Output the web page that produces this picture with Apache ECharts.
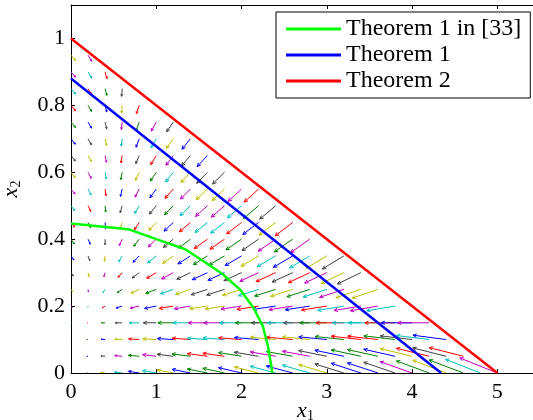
<!DOCTYPE html>
<html>
<head>
<meta charset="utf-8">
<script src="https://cdn.jsdelivr.net/npm/echarts@6/dist/echarts.min.js"></script>
<style>
  html, body { margin: 0; padding: 0; background: #fff; }
  #chart { width: 533px; height: 420px; }
</style>
</head>
<body>
<div id="chart"></div>
<script>
// quiver grid (tails of the arrows)
const arrowX = [0, 0.2, 0.4, 0.6, 0.8, 1, 1.2, 1.4, 1.6, 1.8, 2, 2.2, 2.4, 2.6, 2.8, 3, 3.2, 3.4, 3.6, 3.8, 4, 4.2, 4.4, 4.6, 4.8, 5];
const arrowY = [0, 0.05, 0.1, 0.15, 0.2, 0.25, 0.3, 0.35, 0.4, 0.45, 0.5, 0.55, 0.6, 0.65, 0.7, 0.75, 0.8, 0.85, 0.9, 0.95];

// arrow components, one row per arrowY value
const arrowU = [
  [0, -0.017, -0.049, -0.087, -0.126, -0.16, -0.19, -0.215, -0.236, -0.254, -0.27, -0.284, -0.297, -0.309, -0.32, -0.33, -0.34, -0.349, -0.358, -0.367, -0.375, -0.384, -0.392, -0.4, -0.408, -0.44],
  [0, -0.017, -0.049, -0.087, -0.126, -0.16, -0.19, -0.215, -0.236, -0.254, -0.27, -0.284, -0.297, -0.309, -0.32, -0.33, -0.34, -0.349, -0.358, -0.367, -0.375, -0.384, -0.392, -0.4],
  [0.002, -0.015, -0.047, -0.085, -0.124, -0.158, -0.188, -0.213, -0.234, -0.252, -0.268, -0.282, -0.295, -0.307, -0.318, -0.328, -0.338, -0.347, -0.356, -0.365, -0.373, -0.382, -0.39],
  [0.006, -0.010, -0.042, -0.080, -0.117, -0.151, -0.180, -0.204, -0.225, -0.243, -0.259, -0.273, -0.285, -0.297, -0.307, -0.317, -0.327, -0.336, -0.345, -0.354, -0.362, -0.370],
  [0.013, -0.003, -0.033, -0.069, -0.105, -0.138, -0.165, -0.189, -0.209, -0.226, -0.241, -0.254, -0.267, -0.278, -0.288, -0.298, -0.307, -0.316, -0.324, -0.332],
  [0.020, 0.005, -0.024, -0.059, -0.093, -0.124, -0.151, -0.173, -0.192, -0.209, -0.223, -0.236, -0.247, -0.258, -0.268, -0.277, -0.286, -0.294, -0.302],
  [0.028, 0.013, -0.015, -0.048, -0.082, -0.112, -0.137, -0.159, -0.178, -0.194, -0.207, -0.220, -0.231, -0.241, -0.251, -0.260, -0.268, -0.276],
  [0.034, 0.020, -0.007, -0.039, -0.072, -0.101, -0.125, -0.146, -0.164, -0.180, -0.193, -0.205, -0.216, -0.226, -0.235, -0.243, -0.252],
  [0.039, 0.025, -0.001, -0.033, -0.064, -0.093, -0.117, -0.137, -0.155, -0.170, -0.183, -0.194, -0.205, -0.215, -0.224],
  [0.042, 0.029, 0.004, -0.027, -0.058, -0.086, -0.109, -0.129, -0.146, -0.161, -0.174, -0.185, -0.195, -0.205],
  [0.045, 0.032, 0.007, -0.023, -0.053, -0.080, -0.103, -0.122, -0.139, -0.153, -0.165, -0.177, -0.186],
  [0.047, 0.035, 0.010, -0.019, -0.048, -0.074, -0.097, -0.116, -0.132, -0.146, -0.158, -0.169],
  [0.049, 0.037, 0.013, -0.016, -0.044, -0.070, -0.091, -0.110, -0.126, -0.139],
  [0.050, 0.038, 0.015, -0.013, -0.040, -0.065, -0.086, -0.104, -0.120],
  [0.051, 0.039, 0.017, -0.010, -0.037, -0.061, -0.082, -0.099],
  [0.052, 0.040, 0.018, -0.009, -0.035, -0.059, -0.079],
  [0.052, 0.041, 0.019, -0.007, -0.033],
  [0.053, 0.042, 0.020, -0.006],
  [0.053, 0.042, 0.021],
  [0.053, 0.043]
];
const arrowV = [
  [0, 0, 0.002, 0.003, 0.005, 0.007, 0.009, 0.011, 0.012, 0.014, 0.016, 0.018, 0.020, 0.021, 0.023, 0.025, 0.027, 0.029, 0.030, 0.032, 0.034, 0.036, 0.038, 0.039, 0.041, 0.045],
  [0, 0, 0.001, 0.002, 0.003, 0.005, 0.006, 0.007, 0.008, 0.009, 0.011, 0.012, 0.013, 0.014, 0.015, 0.017, 0.018, 0.019, 0.020, 0.021, 0.023, 0.024, 0.025, 0.026],
  [0, 0, 0.001, 0.001, 0.002, 0.002, 0.003, 0.004, 0.004, 0.005, 0.005, 0.006, 0.007, 0.007, 0.008, 0.008, 0.009, 0.010, 0.010, 0.011, 0.011, 0.012, 0.013],
  [0, 0, 0, 0, 0, 0, 0, 0, 0, 0, 0, 0, 0, 0, 0, 0, 0, 0, 0, 0, 0, 0],
  [-0.004, -0.004, -0.005, -0.006, -0.006, -0.007, -0.007, -0.008, -0.008, -0.009, -0.009, -0.010, -0.010, -0.011, -0.011, -0.012, -0.013, -0.013, -0.014, -0.014],
  [-0.007, -0.008, -0.009, -0.010, -0.011, -0.012, -0.013, -0.015, -0.016, -0.017, -0.018, -0.019, -0.020, -0.021, -0.022, -0.023, -0.024, -0.025, -0.026],
  [-0.010, -0.012, -0.013, -0.014, -0.016, -0.017, -0.019, -0.020, -0.021, -0.023, -0.024, -0.026, -0.027, -0.028, -0.030, -0.031, -0.033, -0.034],
  [-0.012, -0.014, -0.016, -0.017, -0.019, -0.021, -0.022, -0.024, -0.026, -0.027, -0.029, -0.031, -0.032, -0.034, -0.036, -0.037, -0.039],
  [-0.014, -0.015, -0.017, -0.019, -0.021, -0.023, -0.025, -0.027, -0.028, -0.030, -0.032, -0.034, -0.036, -0.038, -0.040],
  [-0.014, -0.016, -0.018, -0.020, -0.022, -0.024, -0.026, -0.028, -0.030, -0.032, -0.034, -0.036, -0.038, -0.040],
  [-0.015, -0.017, -0.019, -0.021, -0.023, -0.025, -0.027, -0.030, -0.032, -0.034, -0.036, -0.038, -0.040],
  [-0.015, -0.018, -0.020, -0.022, -0.024, -0.026, -0.028, -0.030, -0.032, -0.035, -0.037, -0.039],
  [-0.016, -0.018, -0.020, -0.022, -0.024, -0.026, -0.029, -0.031, -0.033, -0.035],
  [-0.016, -0.018, -0.020, -0.022, -0.024, -0.027, -0.029, -0.031, -0.033],
  [-0.016, -0.018, -0.020, -0.022, -0.025, -0.027, -0.029, -0.031],
  [-0.016, -0.018, -0.020, -0.022, -0.025, -0.027, -0.029],
  [-0.016, -0.018, -0.020, -0.023, -0.025],
  [-0.016, -0.018, -0.020, -0.023],
  [-0.016, -0.018, -0.020],
  [-0.016, -0.018]
];

// boundary curves
const greenX = [0, 0.67, 1.0, 1.34, 1.55, 1.78, 1.98, 2.14, 2.25, 2.31, 2.35, 2.36];
const greenY = [0.447, 0.43, 0.40, 0.37, 0.335, 0.295, 0.25, 0.195, 0.14, 0.08, 0.02, 0];
const blueX = [0, 4.34];
const blueY = [0.88, 0];
const redX = [0, 5];
const redY = [1, 0];

const seriesNames = ["Theorem 1 in [33]", "Theorem 1", "Theorem 2"];
const xTicks = [0, 1, 2, 3, 4, 5];
const yTicks = [0, 0.2, 0.4, 0.6, 0.8, 1];

// matlab's old colour order, cycled once per arrow
const quiverColors = ["#0000ff", "#008000", "#ff0000", "#00bfbf", "#bf00bf", "#bfbf00", "#404040"];

const arrows = [];
for (let i = 0; i < arrowX.length; i++) {
  for (let k = 0; k < arrowY.length; k++) {
    if (i < arrowU[k].length) {
      arrows.push([arrowX[i], arrowY[k], arrowU[k][i], arrowV[k][i], arrows.length % 7]);
    }
  }
}

const zip = (xs, ys) => xs.map((x, i) => [x, ys[i]]);
const serif = "Liberation Serif";
const near = (v, list) => list.some(t => Math.abs(t - v) < 1e-6);

function renderArrow(params, api) {
  const x = api.value(0), y = api.value(1);
  const p0 = api.coord([x, y]);
  const p1 = api.coord([x + api.value(2), y + api.value(3)]);
  const color = quiverColors[api.value(4)];
  const dx = p1[0] - p0[0], dy = p1[1] - p0[1];
  const len = Math.hypot(dx, dy);
  const children = [{
    type: "line",
    shape: { x1: p0[0], y1: p0[1], x2: p1[0], y2: p1[1] },
    style: { stroke: color, lineWidth: 1 }
  }];
  if (len > 1.5) {
    const h = Math.min(4, len * 0.3), a = Math.atan2(dy, dx), w = 0.45;
    children.push({
      type: "polyline",
      shape: { points: [
        [p1[0] - h * Math.cos(a - w), p1[1] - h * Math.sin(a - w)],
        [p1[0], p1[1]],
        [p1[0] - h * Math.cos(a + w), p1[1] - h * Math.sin(a + w)]
      ] },
      style: { stroke: color, fill: null, lineWidth: 1 }
    });
  }
  return { type: "group", children };
}

const axisCommon = {
  type: "value",
  axisLine: { show: true, lineStyle: { color: "#000", width: 1 } },
  axisTick: { show: true, inside: true, length: 4, lineStyle: { color: "#000" } },
  splitLine: { show: false }
};

const subName = () => ({
  rich: {
    i: { fontFamily: serif, fontStyle: "italic", fontSize: 22, color: "#000" },
    s: { fontFamily: serif, fontSize: 14, color: "#000", padding: [10, 0, 0, 0] }
  }
});

const chart = echarts.init(document.getElementById("chart"), null, { renderer: "canvas" });
chart.setOption({
  animation: false,
  backgroundColor: "#fff",
  grid: { left: 71, right: -7, top: 5, bottom: 47, containLabel: false, outerBoundsMode: "none" },
  xAxis: [
    Object.assign({}, axisCommon, {
      min: 0, max: 5.5, interval: 1, position: "bottom",
      name: "{i|x}{s|1}", nameLocation: "middle", nameGap: 26, nameMoveOverlap: false,
      nameTextStyle: subName(),
      axisLabel: {
        margin: 8, fontFamily: serif, fontSize: 22, color: "#000",
        formatter: v => near(v, xTicks) ? String(Math.round(v)) : ""
      }
    }),
    Object.assign({}, axisCommon, {
      min: 0, max: 5.5, interval: 1, position: "top",
      axisLabel: { show: false }
    })
  ],
  yAxis: [
    Object.assign({}, axisCommon, {
      min: 0, max: 1.1, interval: 0.2,
      name: "{i|x}{s|2}", nameLocation: "middle", nameGap: 48, nameMoveOverlap: false,
      nameTextStyle: subName(),
      axisLabel: {
        margin: 6, fontFamily: serif, fontSize: 22, color: "#000",
        formatter: v => near(v, yTicks) ? String(Math.round(v * 10) / 10) : ""
      }
    })
  ],
  legend: {
    orient: "vertical", left: 276, top: 12,
    data: seriesNames.map(name => ({ name, icon: "rect" })),
    itemWidth: 55, itemHeight: 3, itemGap: 2,
    padding: [5, 9, 5, 10],
    borderColor: "#000", borderWidth: 1, backgroundColor: "#fff",
    textStyle: { fontFamily: serif, fontSize: 24, color: "#000", lineHeight: 24 }
  },
  series: [
    {
      type: "custom", name: "field", renderItem: renderArrow,
      data: arrows, encode: { x: 0, y: 1 }, clip: true, z: 1, silent: true
    },
    {
      type: "line", name: seriesNames[0], data: zip(greenX, greenY),
      symbol: "none", showSymbol: false, z: 3,
      lineStyle: { color: "#00ff00", width: 2.5 }, itemStyle: { color: "#00ff00" }
    },
    {
      type: "line", name: seriesNames[1], data: zip(blueX, blueY),
      symbol: "none", showSymbol: false, z: 3,
      lineStyle: { color: "#0000ff", width: 2.5 }, itemStyle: { color: "#0000ff" }
    },
    {
      type: "line", name: seriesNames[2], data: zip(redX, redY),
      symbol: "none", showSymbol: false, z: 3,
      lineStyle: { color: "#ff0000", width: 2.5 }, itemStyle: { color: "#ff0000" }
    }
  ]
});
</script>
</body>
</html>
